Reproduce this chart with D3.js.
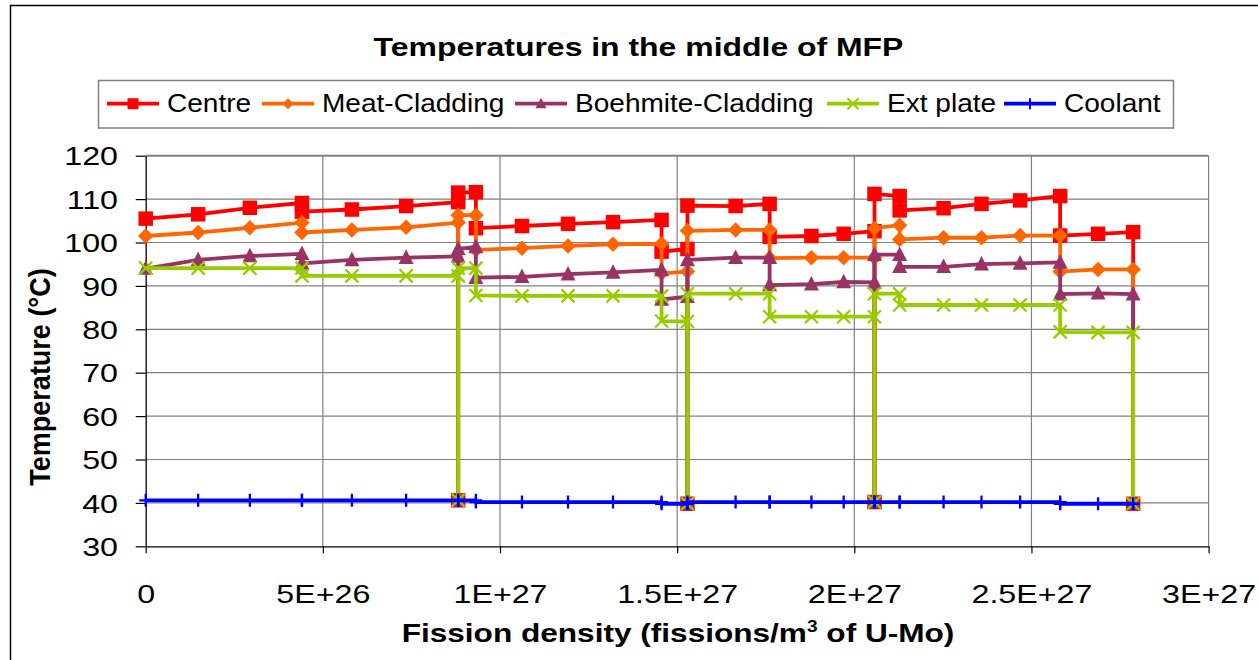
<!DOCTYPE html>
<html><head><meta charset="utf-8">
<script src="https://cdn.jsdelivr.net/npm/d3@7"></script>
<style>
body{margin:0;background:#fff}
svg{display:block}
text{font-family:"Liberation Sans",Arial,sans-serif;fill:#000}
</style>
</head><body>
<svg id="chart" width="1258" height="660"></svg>
<script>
// ---------- DATA ----------
// fission density (fissions/m3 of U-Mo); repeated values are vertical steps / shutdowns
const fissionDensity = [
  0, 0.148e27, 0.294e27, 0.441e27, 0.441e27, 0.582e27, 0.735e27, 0.882e27, 0.882e27, 0.882e27,
  0.932e27, 0.932e27, 1.062e27, 1.192e27, 1.319e27, 1.456e27, 1.456e27, 1.529e27, 1.529e27, 1.529e27,
  1.665e27, 1.761e27, 1.761e27, 1.879e27, 1.970e27, 2.057e27, 2.057e27, 2.057e27, 2.128e27, 2.128e27,
  2.252e27, 2.359e27, 2.468e27, 2.581e27, 2.581e27, 2.688e27, 2.787e27, 2.787e27
];
const centre = [
  105.5, 106.5, 108.0, 109.1, 107.1, 107.6, 108.4, 109.3, 40.6, 111.5,
  111.6, 103.3, 103.8, 104.3, 104.7, 105.2, 97.9, 98.5, 39.8, 108.5,
  108.4, 108.9, 101.3, 101.5, 102.0, 102.6, 40.2, 111.2, 110.7, 107.4,
  107.9, 108.9, 109.7, 110.7, 101.6, 102.0, 102.4, 39.8
];
const meatCladding = [
  101.5, 102.3, 103.4, 104.6, 102.3, 102.9, 103.5, 104.6, 40.6, 106.3,
  106.3, 98.3, 98.7, 99.2, 99.6, 99.7, 92.9, 93.3, 39.8, 102.7,
  102.9, 102.9, 96.4, 96.5, 96.5, 96.5, 40.2, 103.3, 104.0, 100.7,
  101.1, 101.1, 101.6, 101.6, 93.3, 93.8, 93.8, 39.8
];
const boehmiteCladding = [
  94.0, 96.0, 96.9, 97.4, 95.2, 96.0, 96.5, 96.8, 40.6, 98.5,
  99.0, 91.9, 92.1, 92.7, 93.1, 93.7, 86.9, 87.5, 39.8, 96.0,
  96.5, 96.5, 90.2, 90.4, 90.9, 90.8, 40.2, 97.2, 97.2, 94.4,
  94.4, 95.0, 95.2, 95.4, 88.1, 88.3, 88.1, 39.8
];
const extPlate = [
  94.1, 94.1, 94.1, 94.1, 92.3, 92.3, 92.3, 92.3, 40.6, 94.1,
  94.1, 87.8, 87.7, 87.7, 87.7, 87.7, 81.9, 81.8, 39.8, 88.2,
  88.2, 88.2, 82.9, 82.9, 82.9, 82.9, 40.2, 88.2, 88.2, 85.6,
  85.6, 85.6, 85.6, 85.6, 79.4, 79.3, 79.3, 39.8
];
const coolant = [
  40.6, 40.6, 40.6, 40.6, 40.6, 40.6, 40.6, 40.6, 40.6, 40.6,
  40.6, 40.2, 40.2, 40.2, 40.2, 40.2, 39.8, 39.8, 39.8, 40.2,
  40.2, 40.2, 40.2, 40.2, 40.2, 40.2, 40.2, 40.2, 40.2, 40.2,
  40.2, 40.2, 40.2, 40.2, 39.8, 39.8, 39.8, 39.8
];
const seriesNames = ["Centre", "Meat-Cladding", "Boehmite-Cladding", "Ext plate", "Coolant"];
const xTickValues = [0, 5e26, 1e27, 1.5e27, 2e27, 2.5e27, 3e27];
const xTickLabels = ["0", "5E+26", "1E+27", "1.5E+27", "2E+27", "2.5E+27", "3E+27"];
const yTickValues = [30, 40, 50, 60, 70, 80, 90, 100, 110, 120];
const titleText = "Temperatures in the middle of MFP";
const yTitleText = "Temperature (°C)";

// ---------- STYLE ----------
const seriesTable = [
  {name: seriesNames[0], values: centre,           color: "#FF0000", marker: "square",   size: 14.5},
  {name: seriesNames[1], values: meatCladding,     color: "#FF6600", marker: "diamond",  size: 15.5},
  {name: seriesNames[2], values: boehmiteCladding, color: "#993366", marker: "triangle", size: 15},
  {name: seriesNames[3], values: extPlate,         color: "#99CC00", marker: "x",        size: 13},
  {name: seriesNames[4], values: coolant,          color: "#0000FF", marker: "plus",     size: 13}
];

const svg = d3.select("#chart");
const L = 145.7, R = 1208.6, T = 155.7, B = 546.3;
const x = d3.scaleLinear().domain([0, 3e27]).range([L, R]);
const y = d3.scaleLinear().domain([30, 120]).range([B, T]);

function markerPath(type, s) {
  const h = s / 2;
  switch (type) {
    case "square": return `M${-h},${-h}h${s}v${s}h${-s}Z`;
    case "diamond": return `M0,${-h}L${h},0L0,${h}L${-h},0Z`;
    case "triangle": return `M0,${-s*0.55}L${h},${s*0.42}L${-h},${s*0.42}Z`;
    case "x": return `M${-h},${-h}L${h},${h}M${h},${-h}L${-h},${h}`;
    case "plus": return `M0,${-h}V${h}M${-h},0H${h}`;
  }
}
function isStroked(type) { return type === "x" || type === "plus"; }

// outer chart border
svg.append("rect").attr("x", 10.5).attr("y", 5.5).attr("width", 1300).attr("height", 700)
  .attr("fill", "#fff").attr("stroke", "#000").attr("stroke-width", 1.5);

// gridlines
const grid = svg.append("g");
grid.selectAll("line.h").data(yTickValues.filter(v => v > 30)).join("line")
  .attr("x1", L).attr("x2", R).attr("y1", d => y(d)).attr("y2", d => y(d))
  .attr("stroke", "#808080").attr("stroke-width", d => d === 120 ? 2 : 1.2);
grid.selectAll("line.v").data(xTickValues.filter(v => v > 0)).join("line")
  .attr("x1", d => x(d)).attr("x2", d => x(d)).attr("y1", T).attr("y2", B)
  .attr("stroke", "#808080").attr("stroke-width", 1.2);

// axes
const tickSx = 1.24;
const xAxis = svg.append("g").attr("transform", `translate(0,${B})`)
  .call(d3.axisBottom(x).tickValues(xTickValues).tickFormat((d, i) => xTickLabels[i]).tickSize(7).tickSizeOuter(0));
const yAxis = svg.append("g").attr("transform", `translate(${L},0)`)
  .call(d3.axisLeft(y).tickValues(yTickValues).tickSize(10).tickSizeOuter(0));
[xAxis, yAxis].forEach(a => {
  a.select(".domain").attr("stroke", "#000").attr("stroke-width", 1.3);
  a.selectAll(".tick line").attr("stroke", "#000").attr("stroke-width", 1.2);
  a.selectAll("text").style("font-size", "26px").attr("font-family", null).attr("fill", "#000");
});
xAxis.selectAll(".tick text").attr("y", 56.6).attr("dy", 0)
  .attr("transform", `scale(${tickSx},1)`);
yAxis.selectAll(".tick text").attr("x", -27.7 / tickSx).attr("dy", "0.35em")
  .attr("transform", `scale(${tickSx},1)`);

// series
const line = d3.line().x(d => x(d[0])).y(d => y(d[1]));
seriesTable.forEach(s => {
  const pts = fissionDensity.map((fd, i) => [fd, s.values[i]]);
  const g = svg.append("g");
  g.append("path").attr("d", line(pts)).attr("fill", "none")
    .attr("stroke", s.color).attr("stroke-width", 3.8).attr("stroke-linejoin", "round");
  g.selectAll("path.m").data(pts).join("path").attr("class", "m")
    .attr("transform", d => `translate(${x(d[0])},${y(d[1])})`)
    .attr("d", markerPath(s.marker, s.size))
    .attr("fill", isStroked(s.marker) ? "none" : s.color)
    .attr("stroke", isStroked(s.marker) ? s.color : "none")
    .attr("stroke-width", 2.3);
});

// helper: text horizontally stretched to a target width
function stretched(g, str, px, py, size, bold, anchor, targetW) {
  const t = g.append("text").style("font-size", size + "px").style("font-weight", bold ? "bold" : "normal")
    .attr("text-anchor", anchor).text(str);
  const w = t.node().getComputedTextLength();
  const sx = targetW / w;
  t.attr("transform", `translate(${px},${py}) scale(${sx},1)`);
  return t;
}

// title
stretched(svg, titleText, 638.5, 55.5, 26, true, "middle", 530);

// legend
const lg = svg.append("g");
lg.append("rect").attr("x", 98.5).attr("y", 80.5).attr("width", 1075).attr("height", 47.5)
  .attr("fill", "#fff").attr("stroke", "#808080").attr("stroke-width", 1.5);
const legendX = [107, 262, 515, 827, 1004];
const legendSx = 1.1;
seriesTable.forEach((s, i) => {
  const gx = legendX[i], gy = 103.7;
  lg.append("line").attr("x1", gx).attr("x2", gx + 52).attr("y1", gy).attr("y2", gy)
    .attr("stroke", s.color).attr("stroke-width", 3.8);
  lg.append("path").attr("transform", `translate(${gx + 26},${gy})`).attr("d", markerPath(s.marker, 11))
    .attr("fill", isStroked(s.marker) ? "none" : s.color)
    .attr("stroke", isStroked(s.marker) ? s.color : "none").attr("stroke-width", 2);
  lg.append("text").attr("transform", `translate(${gx + 60},111.7) scale(${legendSx},1)`)
    .style("font-size", "25.5px").text(s.name);
});

// x axis title with superscript
const xt = svg.append("text").style("font-size", "26.5px").style("font-weight", "bold").attr("text-anchor", "middle");
xt.append("tspan").text("Fission density (fissions/m");
xt.append("tspan").attr("dy", -10).style("font-size", "16px").text("3");
xt.append("tspan").attr("dy", 10).text(" of U-Mo)");
const xtw = xt.node().getComputedTextLength();
xt.attr("transform", `translate(678,641.7) scale(${553 / xtw},1)`);

// y axis title
svg.append("text").style("font-size", "27px").style("font-weight", "bold").attr("text-anchor", "middle")
  .attr("transform", `translate(49.5,377) scale(1.08,1) rotate(-90)`).text(yTitleText);
</script>
</body></html>
